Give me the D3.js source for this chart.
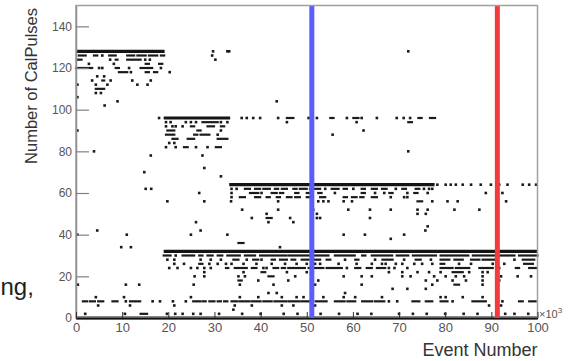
<!DOCTYPE html>
<html>
<head>
<meta charset="utf-8">
<script src="https://cdn.jsdelivr.net/npm/d3@7/dist/d3.min.js"></script>
<style>
  html, body { margin: 0; padding: 0; background: #ffffff; }
  svg { display: block; font-family: "Liberation Sans", Arial, Helvetica, sans-serif; }
</style>
</head>
<body>
<svg id="chart" width="569" height="361"></svg>
<script>
// Event number (x10^3) vs. number of calibration pulses per event.

// Dense levels that fill continuously: [firstEvent, lastEvent, calPulses]
const bands = [
  [0, 19.2, 128],
  [19, 33.4, 96],
  [33.2, 77.7, 64],
  [19, 100, 32],
  [0, 100, 0]
];

// Remaining events, grouped by number of CalPulses.
// A number is a single event; a pair [a, b] is a run of adjacent events.
const eventRows = [
  [128, [29.7, 32.8, 33.2, 72]],
  [126, [[0.6, 2.1], [3.9, 4.6], 5.7, [7.2, 8.6], [11.1, 12.6], [13.3, 14], [14.4, 15.1], [15.8, 17.6], [18.4, 19.1], 29.5]],
  [124, [[0.2, 1.2], 7.4, [8.6, 9], [11.1, 14], 15, 16, 30.2]],
  [122, [2.8, 8.2, [15.1, 15.8], [18, 18.7]]],
  [120, [[0, 3.5], 5, 5.7, [8.6, 9.3], 11.5, [14, 16.5], 18.4]],
  [118, [[9.3, 11.1], 11.9, [15.1, 15.8], [16.9, 17.6], 20.3]],
  [116, [4.6, 6.1]],
  [114, [3.5, [5.7, 6.1], 7.5, 12.2, 16.2]],
  [112, [0.3, 4.3, 6.8, 13.3, 15.5]],
  [110, [[4.3, 6.1]]],
  [108, [4.3, 5.4]],
  [106, [0.3]],
  [104, [9, 43.5]],
  [102, [6.2]],
  [96, [18, 35.9, 37, 38.4, 39.9, 43.8, [45.7, 47.1], 50.4, 52.2, [55.1, 55.8], 58.7, [60.1, 61.2], 61.9, 65.2, 69.5, 71, 72.4, [74.2, 74.9], [76.7, 77.8]]],
  [94, [19.5, 20.5, 23.8, 24.9, 26, [27.4, 30.7], 31.4, 32.8, 45.7, 60.8, [72, 72.8]]],
  [92, [19.5, 20.9, 21.6, 23.1, [24.9, 25.6], [28.5, 29.9], [31.4, 32.1]]],
  [90, [0.3, [19.8, 21.3], [26.3, 27], 31.4, 62.3]],
  [88, [[19.5, 21.3], [25.6, 26.3], [27, 28.9], 30.7, 55.6]],
  [86, [[20.9, 22], [24.2, 25.6], [30.7, 32.8]]],
  [84, [20.2, 21.3]],
  [82, [19.5, 21.6, [23.4, 24.2], 26, 28.5, [30.3, 31.4]]],
  [80, [3.9, 72]],
  [78, [16.2, 27.4]],
  [72, [27.8]],
  [70, [14.8]],
  [68, [31.4]],
  [64, [78.3, 80.1, 81.2, 82.3, 83.8, 85.6, 87.7, 89.9, 91.7, 93.5, 96.8, 98.2, 99.7]],
  [62, [15.1, 16.3, 33.7, 34.8, [36.6, 37.7], [38.8, 39.9], [40.6, 42], [43.1, 43.8], [44.6, 45.7], [47.1, 47.8], [48.5, 50], [50.7, 52.9], 54, [55.4, 56.9], [58, 58.7], 60.1, [61.9, 62.6], [64.1, 65.2], [66.3, 67.3], 69.3, [70.7, 71.5], [73.6, 74.4], 75.4, 76.5, 77.2]],
  [60, [26.7, 33.7, [37.7, 39.5], 40.2, [42.4, 43.5], [44.2, 44.9], [47.5, 48.2], [50, 50.7], [52.5, 53.2], 56.1, [61.9, 62.6], 64.8, 66.8, [67.9, 68.6], 71.8, [73.3, 74], 76.2, 88.8, 92.4]],
  [58, [33.7, [35.5, 36.6], [38.8, 39.9], [41.3, 42], [43.5, 44.2], [45.7, 46.7], [47.5, 48.5], [50, 51.1], [52.9, 54], [58, 58.7], [59.8, 60.8], [61.6, 62.3], [64.1, 65.2], 68.2, 71.1, 71.8]],
  [56, [19.8, 27.8, 33.6, 43.8, 52.5, 53.6, 54.7, 58, 59.8, [74, 75], 77.2, 80.5, 82.7, 93.2]],
  [52, [36, 43.8, 51.4, 59, 63.7, 68.2, 74, 76.2, 82, 87.4]],
  [50, [41.3, 52.2, 74, 75.8]],
  [48, [38.1, [41.3, 42.4], 46.4, 52.2, 52.9, 63.7]],
  [46, [26, 41.7, 47.1]],
  [44, [76.2]],
  [42, [4.6, 27, 75.7]],
  [40, [0.3, 11, 24.9, 32.8, 58, 62.6, 71.1]],
  [38, [68.2]],
  [36, [[35.2, 36.3]]],
  [34, [9.8, 11.9, 44.2]],
  [30, [[19, 20.5], 21.6, [23.1, 25.6], [26.7, 27.4], [28.5, 29.6], [30.7, 31.7], [32.8, 34.1], [34.5, 35.5], [36.6, 38.8], [39.9, 40.9], [41.3, 45.5], [46, 51], [51.4, 54.7], [56.1, 60.4], [62, 62.7], [64.1, 68.5], [69.5, 72], [73, 78], [79, 85], [86, 91], [91.5, 95], [96, 100]]],
  [28, [19.8, 21.3, 27, 29.2, 31.4, [34.1, 35.2], 37, [38.4, 39.5], 40.2, [42.4, 43.1], [44.2, 45.7], [46.7, 47.5], [48.9, 50.4], [51.8, 52.9], [54.3, 55.1], 58.3, [60.5, 61.2], 64.8, [66.4, 68.6], 71.1, [73.6, 74.7], 76.9, [79, 80.9], [82, 83.8], [85.6, 87.4], [88.1, 91], 95, [96.8, 99.3]]],
  [26, [21.3, 23.4, [26.7, 27.4], 28.9, 30.7, 32.5, 33.7, 36.3, 39.1, 42.4, 45.3, 47.8, 50, 51.8, 52.9, 56.9, 60.8, 64.1, 66.3, 67.1, 69.3, 70.7, 73.3, 75, 77.2, [79, 79.8], 83, 85.6, 90.3, 92.8, [97.1, 99]]],
  [24, [20.2, 22, 24.9, 26.3, 27.8, 29.2, [32.5, 33], [34.4, 37], [38.1, 39.1], 40.6, 41.3, [42.8, 43.8], [44.6, 45.3], [46, 49.6], [50.4, 53.6], [54.3, 57.6], 58.7, [60.5, 61.6], [63, 64.1], [65.2, 67], 67.8, 69, 71.8, [79, 81.6], [82.3, 85.2], [87.4, 90.3], 91.7, [95.3, 96], [98.2, 99.7]]],
  [22, [27.8, 36.3, [40.2, 41], 45.7, 50, 67.8, 70.7, 74, 76.5, 79, [81.6, 83.8], 85.2, 88.1, 89.2]],
  [20, [25.7, 27.8, 35.2, 36.6, [41.7, 42.8], 47.5, 58, 61.9, 64.1, 70.7, 72.5, 77.6, 80.1, 82.3, 84.1, 88.1, 92.1, 95.7, 98.6]],
  [18, [[35.2, 35.9], 39.5, 46, 51.1, 52.5, 75.8, 78.3, 81.6, 84.5, 88.1, 91.7]],
  [16, [0.4, 10.8, 13.7, 25.5, 35.5, 42.8, 51.8, 61.9, 77.2, [82, 83], 88.1]],
  [14, [68.6, 71.8, 75.8]],
  [12, [41.7, 43.5, 58.3]],
  [10, [4.3, 10.4, 24.9, 35.5, 39.5, 44.6, 47.8, 49.3, 53.6, 58, 60.5, 66.3, 79, 80.1, 83.8, 88.1]],
  [8, [[1.5, 2.4], [3, 4.1], [4.8, 5.9], [7.9, 9], 10.8, [11.7, 13.9], 16.6, 18.2, 21, 23.8, [25.4, 26.9], [27.4, 28.1], [28.9, 30], [30.7, 31.4], [32.1, 32.8], [33.7, 35], [35.5, 37.5], [38, 40], [40.6, 42.4], [43, 45.5], [46, 48.5], [49, 51.4], [52, 54.3], [56.1, 58.2], [58.8, 60.5], [62, 64.2], [64.8, 66.8], 67.8, 69.6, [72.9, 74.4], [75.8, 77.2], [79, 80.5], 81.6, [85.9, 88.8], 92.4, [96, 96.8], [98.2, 99.6]]],
  [6, [4.8, 11.7, 21.3, 34.4, 38.1, 44.6, 47.1, 51.8, 89.5, 92.1]],
  [4, [34.1]],
  [2, [2, 10.6, [14, 15.4], 19.7, 21.5, 23.1, 25.4, 27, 31, 36, 40, 45, 48, 53, 57, 61, 64, 70, 73, 76, 80, 84, 87, 93, 95, 98]]
];

// Event numbers where the two reference cuts sit
const cutEvents = [51.1, 91.3];
const cutColors = ["#5b5bff", "#f23c3c"];

// Axis labelling
const yMajorTicks = [0, 20, 40, 60, 80, 100, 120, 140];
const xMajorTicks = [0, 10, 20, 30, 40, 50, 60, 70, 80, 90, 100];
const xTitle = "Event Number";
const yTitle = "Number of CalPulses";
const xExponent = "\u00d710";

const svg = d3.select("#chart");

const x = d3.scaleLinear().domain([0, 100]).range([76, 537.5]);
const y = d3.scaleLinear().domain([0, 150]).range([318, 5.5]);

// Slide text beside the plot
svg.append("text")
  .attr("x", 0.5).attr("y", 295)
  .attr("text-anchor", "start")
  .attr("font-size", 24)
  .attr("fill", "#1e1e1e")
  .text("ng,");

const plot = svg.append("g");

// Flatten rows into single events and runs
const singles = [];
const runs = [];
eventRows.forEach(([c, items]) => {
  items.forEach(it => {
    if (Array.isArray(it)) runs.push([it[0], it[1], c]);
    else singles.push([it, c]);
  });
});

plot.selectAll("line.band").data(bands).join("line")
  .attr("class", "band")
  .attr("x1", d => x(d[0])).attr("x2", d => x(d[1]))
  .attr("y1", d => y(d[2])).attr("y2", d => y(d[2]))
  .attr("stroke", "#141414").attr("stroke-width", 3.2);

plot.selectAll("line.run").data(runs).join("line")
  .attr("class", "run")
  .attr("x1", d => x(d[0])).attr("x2", d => x(d[1]))
  .attr("y1", d => y(d[2])).attr("y2", d => y(d[2]))
  .attr("stroke", "#1a1a1a").attr("stroke-width", 2.2)
  .attr("stroke-linecap", "square");

plot.selectAll("rect.ev").data(singles).join("rect")
  .attr("class", "ev")
  .attr("x", d => x(d[0]) - 1.3).attr("y", d => y(d[1]) - 1.3)
  .attr("width", 2.6).attr("height", 2.6)
  .attr("fill", "#1a1a1a");

// Cut markers
svg.selectAll("line.cut").data(cutEvents).join("line")
  .attr("class", "cut")
  .attr("x1", d => x(d)).attr("x2", d => x(d))
  .attr("y1", y(150)).attr("y2", y(0))
  .attr("stroke", (d, i) => cutColors[i])
  .attr("stroke-width", 5);

// Frame
svg.append("rect")
  .attr("x", x(0)).attr("y", y(150))
  .attr("width", x(100) - x(0)).attr("height", y(0) - y(150))
  .attr("fill", "none").attr("stroke", "#a0a0a0").attr("stroke-width", 1.5);

// Y axis: ticks pointing into the frame
const yMinor = d3.range(0, 151, 4).filter(v => v % 20 !== 0);
const yAxisG = svg.append("g").attr("transform", `translate(${x(0)},0)`);
yAxisG.call(d3.axisLeft(y).tickValues(yMinor).tickSize(-6).tickSizeOuter(0).tickFormat(""));
yAxisG.call(d3.axisLeft(y).tickValues(yMajorTicks).tickSize(-13).tickSizeOuter(0).tickPadding(4));
yAxisG.selectAll("path.domain").attr("stroke", "#909090").attr("stroke-width", 1.5);
yAxisG.selectAll(".tick line").attr("stroke", "#808080").attr("stroke-width", 1.2);
yAxisG.selectAll(".tick text").attr("font-size", 12).attr("fill", "#555")
  .attr("font-family", "Liberation Sans, Arial, sans-serif");

// X axis: ticks pointing up
const xMinor = d3.range(0, 101, 2).filter(v => v % 10 !== 0);
const xAxisG = svg.append("g").attr("transform", `translate(0,${y(0)})`);
xAxisG.call(d3.axisBottom(x).tickValues(xMinor).tickSize(-3.5).tickSizeOuter(0).tickFormat(""));
xAxisG.call(d3.axisBottom(x).tickValues(xMajorTicks).tickSize(-6).tickSizeOuter(0).tickPadding(5));
xAxisG.selectAll("path.domain").attr("stroke", "#111").attr("stroke-width", 1.5);
xAxisG.selectAll(".tick line").attr("stroke", "#333").attr("stroke-width", 1);
xAxisG.selectAll(".tick text").attr("font-size", 13).attr("fill", "#555")
  .attr("font-family", "Liberation Sans, Arial, sans-serif");

// Exponent of the x axis
const expo = svg.append("text")
  .attr("x", 539).attr("y", 318)
  .attr("font-size", 11).attr("fill", "#555");
expo.append("tspan").text(xExponent);
expo.append("tspan").attr("font-size", 8).attr("dy", -5).text("3");

// Axis titles
svg.append("text")
  .attr("x", x(100)).attr("y", 356)
  .attr("text-anchor", "end")
  .attr("font-size", 18).attr("fill", "#333")
  .text(xTitle);

svg.append("text")
  .attr("transform", "translate(37,8) rotate(-90)")
  .attr("text-anchor", "end")
  .attr("font-size", 16.5).attr("fill", "#333")
  .text(yTitle);
</script>
</body>
</html>
